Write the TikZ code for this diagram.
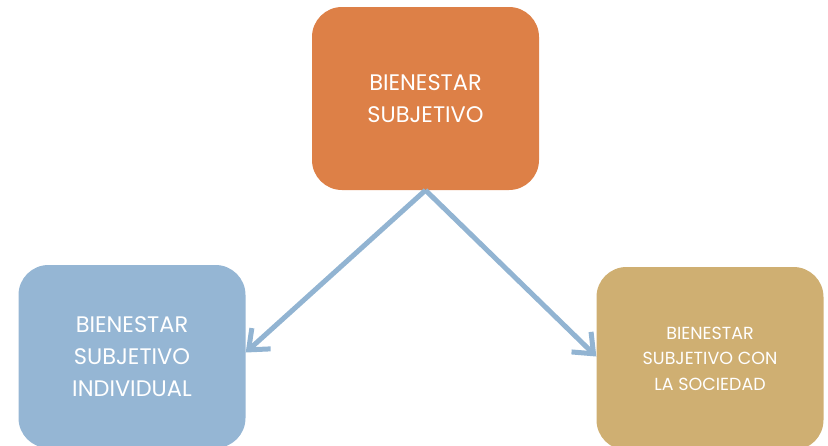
\documentclass[tikz,border=0pt]{standalone}
\usepackage{fontspec}
\setmainfont{Poppins}
\usetikzlibrary{arrows.meta}
\definecolor{cOrange}{RGB}{221,128,71}
\definecolor{cBlue}{RGB}{149,182,212}
\definecolor{cTan}{RGB}{207,175,114}
\definecolor{cArrow}{RGB}{146,180,210}
\tikzset{
  box/.style={rounded corners=30pt, minimum width=227pt, minimum height=183pt, inner sep=0pt, align=center, text=white},
  bigtxt/.style={font=\fontsize{22.5}{32}\selectfont},
  smalltxt/.style={font=\fontsize{17.5}{25.5}\selectfont},
  conn/.style={draw=cArrow, line width=5pt, -{Straight Barb[length=17pt,width=28pt,line width=5pt]}}
}
\begin{document}
\begin{tikzpicture}[x=1pt,y=1pt]
\useasboundingbox (0,0) rectangle (828,-445);
\clip (0,0) rectangle (828,-445);
\node[box, fill=cOrange, bigtxt] (top) at (425.5,-98.5) {BIENESTAR\\SUBJETIVO};
\node[box, fill=cBlue, bigtxt] (left) at (132,-356.5) {BIENESTAR\\SUBJETIVO\\INDIVIDUAL};
\node[box, fill=cTan, smalltxt] (right) at (710,-358.5) {BIENESTAR\\SUBJETIVO CON\\LA SOCIEDAD};
\draw[conn] (top.south) -- ([yshift=4pt]left.east);
\draw[conn] (top.south) -- ([yshift=2pt]right.west);
\end{tikzpicture}
\end{document}
